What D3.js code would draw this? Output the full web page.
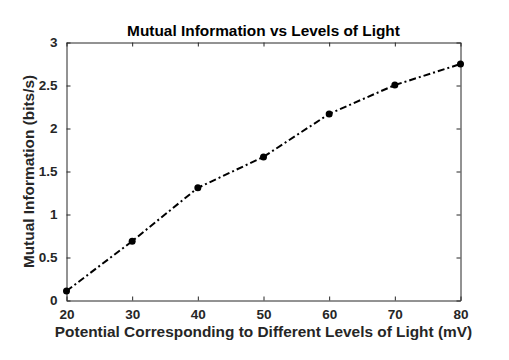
<!DOCTYPE html>
<html>
<head>
<meta charset="utf-8">
<script src="https://cdn.jsdelivr.net/npm/d3@7"></script>
<style>
  body { margin: 0; background: #fff; }
  text { font-family: "Liberation Sans", Arial, Helvetica, sans-serif; font-weight: bold; }
</style>
</head>
<body>
<div id="chart"></div>
<script>
// data
var potential = [20, 30, 40, 50, 60, 70, 80];
var mutualInfo = [0.11, 0.69, 1.31, 1.67, 2.17, 2.505, 2.75];
var xTicks = [20, 30, 40, 50, 60, 70, 80];
var yTicks = [0, 0.5, 1, 1.5, 2, 2.5, 3];

var svgWidth = 509;
var svgHeight = 360;

var margin = { top: 42.5, right: 48.5, bottom: 59.5, left: 66.5 };
var width = svgWidth - margin.left - margin.right;
var height = svgHeight - margin.top - margin.bottom;

var svg = d3.select("#chart")
    .append("svg")
    .attr("width", svgWidth)
    .attr("height", svgHeight);

var chartGroup = svg.append("g")
    .attr("transform", `translate(${margin.left}, ${margin.top})`);

var xScale = d3.scaleLinear().domain([20, 80]).range([0, width]);
var yScale = d3.scaleLinear().domain([0, 3]).range([height, 0]);

var axisColor = "#262626";
var tickLen = 4;

// axes with inward ticks, box on all sides
function styleAxis(g) {
    g.select(".domain").attr("stroke", axisColor).attr("stroke-width", 1);
    g.selectAll(".tick line").attr("stroke", axisColor);
    g.selectAll(".tick text")
        .attr("fill", axisColor)
        .attr("font-size", "13.5px")
        .attr("font-weight", "bold");
}

chartGroup.append("g")
    .attr("transform", `translate(0, ${height})`)
    .call(d3.axisBottom(xScale).tickValues(xTicks).tickSize(-tickLen).tickSizeOuter(0).tickPadding(9).tickFormat(d3.format("d")))
    .call(styleAxis);

chartGroup.append("g")
    .call(d3.axisTop(xScale).tickValues(xTicks).tickSize(-tickLen).tickSizeOuter(0).tickFormat(""))
    .call(styleAxis);

chartGroup.append("g")
    .call(d3.axisLeft(yScale).tickValues(yTicks).tickSize(-tickLen).tickSizeOuter(0).tickPadding(9).tickFormat(d3.format("")))
    .call(styleAxis);

chartGroup.append("g")
    .attr("transform", `translate(${width}, 0)`)
    .call(d3.axisRight(yScale).tickValues(yTicks).tickSize(-tickLen).tickSizeOuter(0).tickFormat(""))
    .call(styleAxis);

// line
var line = d3.line()
    .x((d, i) => xScale(potential[i]))
    .y(d => yScale(d));

chartGroup.append("path")
    .datum(mutualInfo)
    .attr("d", line)
    .attr("fill", "none")
    .attr("stroke", "#000")
    .attr("stroke-width", 2)
    .attr("stroke-dasharray", "7,3,2,3");

chartGroup.selectAll("circle")
    .data(mutualInfo)
    .enter()
    .append("circle")
    .attr("cx", (d, i) => xScale(potential[i]))
    .attr("cy", d => yScale(d))
    .attr("r", 3.5)
    .attr("fill", "#000");

// labels
svg.append("text")
    .attr("x", margin.left + width / 2)
    .attr("y", 36)
    .attr("text-anchor", "middle")
    .attr("font-size", "15.4px")
    .attr("fill", "#000")
    .text("Mutual Information vs Levels of Light");

svg.append("text")
    .attr("x", margin.left + width / 2)
    .attr("y", 337)
    .attr("text-anchor", "middle")
    .attr("font-size", "15.4px")
    .attr("fill", axisColor)
    .text("Potential Corresponding to Different Levels of Light (mV)");

svg.append("text")
    .attr("transform", `translate(34, ${margin.top + height / 2}) rotate(-90)`)
    .attr("text-anchor", "middle")
    .attr("font-size", "15.4px")
    .attr("fill", axisColor)
    .text("Mutual Information (bits/s)");
</script>
</body>
</html>
